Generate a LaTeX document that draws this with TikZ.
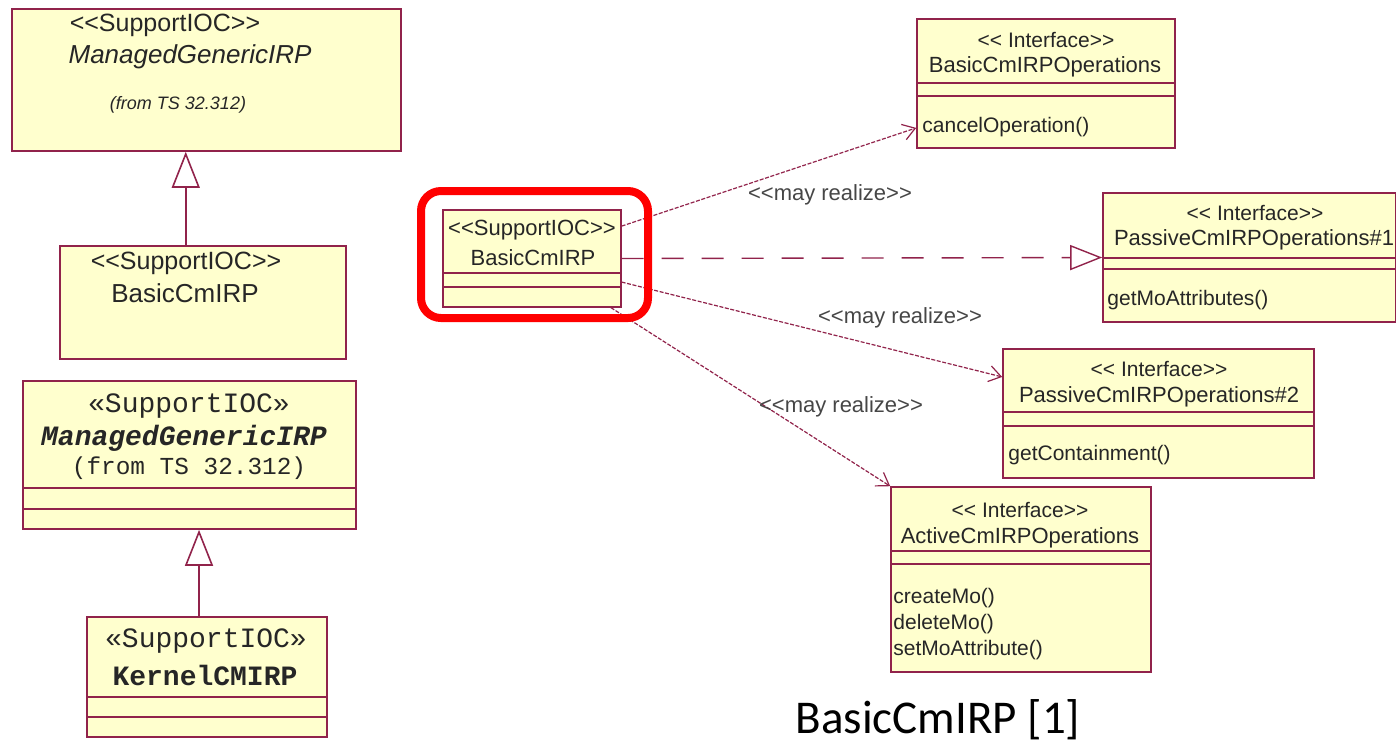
\documentclass[tikz,border=0pt]{standalone}
\usepackage{fontspec}
\setmainfont{Liberation Sans}
\newfontfamily\umlmono{Liberation Mono}
\newfontfamily\capfont{Carlito}
\usetikzlibrary{arrows.meta, calc, fit, positioning}
\definecolor{umlfill}{RGB}{255,255,206}
\definecolor{umlline}{RGB}{145,35,75}
\definecolor{labelgray}{RGB}{70,70,70}
\tikzset{
  uml/.style={
	x=0.5pt, y=-0.5pt, % one unit is one pixel of the screenshot
	umlbox/.style={draw=umlline, fill=umlfill, line width=0.8pt, inner sep=0pt}, % class boxes
	cmp/.style={draw=umlline, line width=0.8pt}, % compartment lines
	txt/.style={inner sep=0pt, text=black!85},
	inherit/.style={draw=umlline, line width=0.8pt, -{Triangle[open, fill=white, length=18pt, width=14pt]}},
	realize/.style={draw=umlline, line width=0.7pt, dash pattern=on 11pt off 9pt, -{Triangle[open, fill=white, length=16pt, width=12.5pt]}},
	mayrealize/.style={draw=umlline, line width=0.6pt, dash pattern=on 2pt off 0.8pt, -{Straight Barb[length=6pt, width=8pt]}},
	mr/.style={inner sep=0pt, text=labelgray, font=\fontsize{11}{13}\selectfont}, % <<may realize>> labels
	highlight/.style={draw=red, line width=4pt, rounded corners=10pt, inner sep=0pt},
  }
}

\begin{document}
\begin{tikzpicture}[uml]
\useasboundingbox (0,0) rectangle (1396,746);

% left column
\node[umlbox, fit={(12,9) (401,151)}] (mgiA) {};
\node[umlbox, fit={(60,246) (346,359)}] (basicL) {};
\node[umlbox, fit={(23,381) (356,529)}] (mgiC) {};
\node[umlbox, fit={(87,617) (327,737)}] (kernel) {};

\node[txt, font=\fontsize{12.5}{15}\selectfont] (mgiAst) at (165,25) {<{}<SupportIOC>{}>};
\node[txt, font=\itshape\fontsize{13}{15}\selectfont] (mgiAname) at (190,57) {ManagedGenericIRP};
\node[txt, font=\itshape\fontsize{9}{11}\selectfont] (mgiAfrom) at (178,105) {(from TS 32.312)};
\node[txt, font=\fontsize{12.5}{15}\selectfont] (basicLst) at (186,263) {<{}<SupportIOC>{}>};
\node[txt, font=\fontsize{13}{15}\selectfont] (basicLname) at (185,293) {BasicCmIRP};

\node[txt, font=\umlmono\fontsize{14}{16}\selectfont] (mgiCst) at (189,406) {«SupportIOC»};
\node[txt, font=\umlmono\bfseries\itshape\fontsize{14}{16}\selectfont] (mgiCname) at (184,438) {ManagedGenericIRP};
\node[txt, font=\umlmono\fontsize{12.2}{15}\selectfont] (mgiCfrom) at (189,468) {(from TS 32.312)};
\node[txt, font=\umlmono\fontsize{14}{16}\selectfont] (kernelst) at (206,641) {«SupportIOC»};
\node[txt, font=\umlmono\bfseries\fontsize{14}{16}\selectfont] (kernelname) at (205,675) {KernelCMIRP};

\coordinate (genA) at ($(basicL.north west)!0.44!(basicL.north east)$);
\coordinate (genC) at ($(kernel.north west)!0.467!(kernel.north east)$);
\draw[inherit] (genA) -- (genA |- mgiA.south);
\draw[inherit] (genC) -- (genC |- mgiC.south);

% BasicCmIRP and its interfaces
\node[umlbox, line width=0.6pt, fit={(443,210) (621,307)}] (basicM) {};
\node[umlbox, fit={(917,19) (1175,148)}] (opsBasic) {};
\node[umlbox, fit={(1103,193) (1396,322)}] (opsPass1) {};
\node[umlbox, fit={(1003,349) (1314,478)}] (opsPass2) {};
\node[umlbox, fit={(891,487) (1151,672)}] (opsActive) {};

\foreach \xa/\xb/\y in {23/356/488, 23/356/509, 87/327/697, 87/327/717,
	443/621/273, 443/621/287, 917/1175/83, 917/1175/96, 1103/1396/258, 1103/1396/269,
	1003/1314/412, 1003/1314/426, 891/1151/551, 891/1151/564}
  \draw[cmp] (\xa,\y) -- (\xb,\y);

\node[txt, font=\fontsize{11}{13}\selectfont] (basicMst) at (532,230) {<{}<SupportIOC>{}>};
\node[txt, font=\fontsize{11}{13}\selectfont] (basicMname) at (533,258) {BasicCmIRP};

\node[txt, font=\fontsize{10.5}{13}\selectfont] (opsBasicst) at (1046,40) {<{}< Interface>{}>};
\node[txt, font=\fontsize{11}{13}\selectfont] (opsBasicname) at (1045,67) {BasicCmIRPOperations};
\node[txt, anchor=west, font=\fontsize{10.5}{13}\selectfont] (opsBasicop) at (922,127) {cancelOperation()};

\node[txt, font=\fontsize{10.5}{13}\selectfont] (opsPass1st) at (1255,213) {<{}< Interface>{}>};
\node[txt, font=\fontsize{11}{13}\selectfont] (opsPass1name) at (1254,240) {PassiveCmIRPOperations\#1};
\node[txt, anchor=west, font=\fontsize{10.5}{13}\selectfont] (opsPass1op) at (1107,300) {getMoAttributes()};

\node[txt, font=\fontsize{10.5}{13}\selectfont] (opsPass2st) at (1159,369) {<{}< Interface>{}>};
\node[txt, font=\fontsize{11}{13}\selectfont] (opsPass2name) at (1159,397) {PassiveCmIRPOperations\#2};
\node[txt, anchor=west, font=\fontsize{10.5}{13}\selectfont] (opsPass2op) at (1008,455) {getContainment()};

\node[txt, font=\fontsize{10.5}{13}\selectfont] (opsActivest) at (1020,510) {<{}< Interface>{}>};
\node[txt, font=\fontsize{11}{13}\selectfont] (opsActivename) at (1020,538) {ActiveCmIRPOperations};
\node[txt, anchor=north west, align=left, font=\fontsize{10.5}{13}\selectfont] (opsActiveop) at (893,588)
  {createMo()\\deleteMo()\\setMoAttribute()};

% connectors
\draw[realize] (basicM.east) -- (opsPass1.west);
\draw[mayrealize] ($(basicM.north east)!0.17!(basicM.south east)$) -- ($(opsBasic.north west)!0.84!(opsBasic.south west)$);
\draw[mayrealize] ($(basicM.north east)!0.74!(basicM.south east)$) -- ($(opsPass2.north west)!0.22!(opsPass2.south west)$);
\draw[mayrealize] ($(basicM.south west)!0.94!(basicM.south east)$) -- (opsActive.north west);
\node[mr] (mr1) at (830,195) {<{}<may realize>{}>};
\node[mr] (mr2) at (900,318) {<{}<may realize>{}>};
\node[mr] (mr3) at (841,407) {<{}<may realize>{}>};

\node[highlight, fit={(421,191) (648,318)}] (focus) {};

\node[inner sep=0pt, font=\capfont\fontsize{23.5}{28}\selectfont] (caption) at (938,720) {BasicCmIRP [1]};
\end{tikzpicture}
\end{document}
